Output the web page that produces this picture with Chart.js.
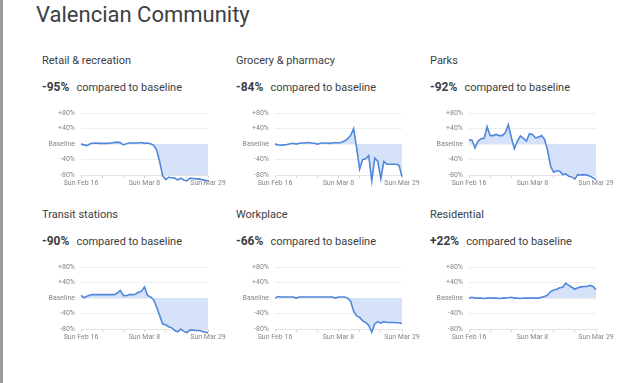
<!DOCTYPE html>
<html>
<head>
<meta charset="utf-8">
<script src="https://cdn.jsdelivr.net/npm/chart.js@4/dist/chart.umd.min.js"></script>
<style>
  html, body { margin: 0; padding: 0; background: #fff; }
  body { width: 632px; height: 383px; position: relative; overflow: hidden; font-family: Roboto, "Open Sans", sans-serif; }
  #bar { position: absolute; left: 0; top: 0; width: 3px; height: 383px; background: #999; }
  #main { position: absolute; left: 36px; top: 2px; font-size: 22px; line-height: 26px; color: #3c4043; }
  .ptitle { position: absolute; font-size: 11px; line-height: 14px; color: #3c4043; white-space: nowrap; }
  .pstat { position: absolute; font-size: 11px; line-height: 16px; color: #3c4043; white-space: nowrap; }
  .pstat b { font-weight: 700; font-size: 12px; color: #3c4043; margin-right: 7px; }
  canvas { position: absolute; }
</style>
</head>
<body>
<div id="bar"></div>
<div id="main">Valencian Community</div>
<script>
// ---- data ----
const regionName = "Valencian Community";
const dates = [
  "Sun Feb 16","Mon Feb 17","Tue Feb 18","Wed Feb 19","Thu Feb 20","Fri Feb 21","Sat Feb 22",
  "Sun Feb 23","Mon Feb 24","Tue Feb 25","Wed Feb 26","Thu Feb 27","Fri Feb 28","Sat Feb 29",
  "Sun Mar 1","Mon Mar 2","Tue Mar 3","Wed Mar 4","Thu Mar 5","Fri Mar 6","Sat Mar 7",
  "Sun Mar 8","Mon Mar 9","Tue Mar 10","Wed Mar 11","Thu Mar 12","Fri Mar 13","Sat Mar 14",
  "Sun Mar 15","Mon Mar 16","Tue Mar 17","Wed Mar 18","Thu Mar 19","Fri Mar 20","Sat Mar 21",
  "Sun Mar 22","Mon Mar 23","Tue Mar 24","Wed Mar 25","Thu Mar 26","Fri Mar 27","Sat Mar 28",
  "Sun Mar 29"
];
const shownDateIdx = [0, 21, 42];
const yTicks = [80, 40, 0, -40, -80];

const panelTitles = ["Retail & recreation", "Grocery & pharmacy", "Parks", "Transit stations", "Workplace", "Residential"];
const panelChange = ["-95%", "-84%", "-92%", "-90%", "-66%", "+22%"];
const compareText = "compared to baseline";

const retail = [0,-2,-4,1,2,3,2,2,2,2,3,4,5,4,-2,1,3,3,3,3,4,2,3,1,-3,-15,-45,-82,-92,-86,-87,-88,-93,-88,-93,-95,-88,-89,-90,-90,-92,-94,-95];
const grocery = [0,-2,-3,-2,-1,1,2,0,2,3,3,4,3,2,0,2,3,3,2,3,4,3,5,8,14,22,40,-10,-65,-40,-38,-30,-95,-36,-45,-90,-45,-52,-52,-52,-52,-55,-84];
const parks = [11,10,-10,8,14,15,45,22,22,25,22,22,29,50,17,-12,8,21,15,8,27,25,16,18,22,12,-17,-58,-73,-69,-70,-79,-77,-83,-85,-90,-79,-80,-79,-80,-83,-87,-92];
const transit = [7,1,5,8,9,9,9,9,9,9,9,9,13,20,7,6,9,9,10,15,18,29,7,3,-4,-23,-45,-67,-69,-74,-77,-84,-87,-80,-86,-89,-83,-83,-84,-84,-86,-88,-90];
const workplace = [0,4,3,3,3,3,3,0,3,3,3,3,3,3,3,3,3,3,3,3,0,3,3,3,0,-8,-34,-46,-50,-59,-63,-71,-88,-67,-61,-65,-61,-63,-63,-63,-64,-64,-66];
const residential = [0,2,0,0,0,-1,0,1,0,0,-1,0,0,1,2,0,0,-1,0,0,0,1,0,0,2,4,8,17,21,23,27,28,39,33,28,23,27,29,30,30,33,30,22];
const panelSeries = [retail, grocery, parks, transit, workplace, residential];

// ---- layout ----
const colPlotLeft = [81, 275, 469];
const rowPlotTop = [111, 265];
const plotW = 127, plotH = 64;
const padL = 45, padR = 22, padT = 8, xAxisH = 16;

document.getElementById('main').textContent = regionName;

panelSeries.forEach((vals, i) => {
  const c = i % 3, r = Math.floor(i / 3);
  const pl = colPlotLeft[c], pt = rowPlotTop[r];

  const t = document.createElement('div');
  t.className = 'ptitle';
  t.style.left = (pl - 39) + 'px';
  t.style.top = (pt - 57) + 'px';
  t.textContent = panelTitles[i];
  document.body.appendChild(t);

  const s = document.createElement('div');
  s.className = 'pstat';
  s.style.left = (pl - 39) + 'px';
  s.style.top = (pt - 32) + 'px';
  const b = document.createElement('b');
  b.textContent = panelChange[i];
  s.appendChild(b);
  s.appendChild(document.createTextNode(compareText));
  document.body.appendChild(s);

  const cv = document.createElement('canvas');
  const W = padL + plotW + padR, H = padT + plotH + xAxisH;
  cv.width = W; cv.height = H;
  cv.style.width = W + 'px'; cv.style.height = H + 'px';
  cv.style.left = (pl - padL) + 'px';
  cv.style.top = (pt - padT) + 'px';
  document.body.appendChild(cv);

  new Chart(cv, {
    type: 'line',
    data: {
      labels: dates,
      datasets: [{
        data: vals,
        borderColor: '#5087dc',
        backgroundColor: '#d5e2fa',
        borderWidth: 1.6,
        pointRadius: 0,
        tension: 0,
        fill: 'origin',
        clip: false
      }]
    },
    options: {
      responsive: false,
      animation: false,
      devicePixelRatio: 1,
      layout: { padding: { top: padT, right: padR, left: 0, bottom: 0 } },
      plugins: { legend: { display: false }, tooltip: { enabled: false } },
      scales: {
        x: {
          type: 'category',
          offset: false,
          afterFit: (sc) => { sc.height = xAxisH; },
          border: { display: true, color: '#e3e3e3', width: 1 },
          grid: {
            drawOnChartArea: false,
            tickLength: 3,
            color: (ctx) => (ctx.index % 7 === 0 ? '#d6d6d6' : 'rgba(0,0,0,0)')
          },
          ticks: {
            autoSkip: false,
            maxRotation: 0,
            padding: 1,
            color: '#80868b',
            font: { family: 'Roboto', size: 7 },
            callback: function (v, idx) { return shownDateIdx.includes(idx) ? dates[idx] : ''; }
          }
        },
        y: {
          min: -80, max: 80,
          afterFit: (sc) => { sc.width = padL; },
          afterBuildTicks: (sc) => { sc.ticks = yTicks.map(v => ({ value: v })); },
          border: { display: false },
          grid: { color: '#eeeeee', drawTicks: false, lineWidth: 1 },
          ticks: {
            padding: 6,
            color: '#80868b',
            font: { family: 'Roboto', size: 7 },
            callback: (v) => (v === 0 ? 'Baseline' : (v > 0 ? '+' : '') + v + '%')
          }
        }
      }
    }
  });
});
</script>
</body>
</html>
